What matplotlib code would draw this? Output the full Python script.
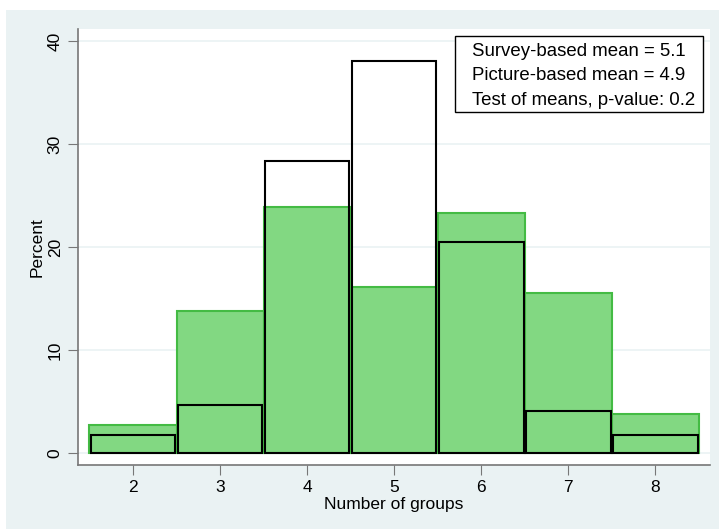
import numpy as np
import matplotlib.pyplot as plt
from matplotlib.patches import Rectangle

plt.rcParams['font.family'] = ['Liberation Sans', 'DejaVu Sans']

# Data: percent per number of groups
groups = [2, 3, 4, 5, 6, 7, 8]
survey_pct = [2.7, 13.8, 23.9, 16.1, 23.3, 15.5, 3.8]   # green filled
picture_pct = [1.7, 4.7, 28.4, 38.1, 20.5, 4.1, 1.7]    # black outline
box_lines = ["Survey-based mean = 5.1",
             "Picture-based mean = 4.9",
             "Test of means, p-value: 0.2"]

W, H = 719, 529
bg = "#EAF2F3"
fig = plt.figure(figsize=(W / 100, H / 100), dpi=100)
fig.patch.set_facecolor("white")
fig.patches.append(Rectangle((6 / W, 0), 1, 1 - 10 / H, transform=fig.transFigure,
                             facecolor=bg, edgecolor="none", zorder=-10))

ax = fig.add_axes([78 / W, 64 / H, 632 / W, 436 / H])
ax.set_facecolor("white")

ax.bar(groups, survey_pct, width=1.0, color="#82D882", edgecolor="#44BB44",
       linewidth=1.5, zorder=2)
ax.bar(groups, picture_pct, width=0.97, color="none", edgecolor="black",
       linewidth=1.5, zorder=3)

ax.set_xlim(1.368, 8.626)
ax.set_ylim(-1.165, 41.17)
ax.set_xticks(groups)
ax.set_yticks([0, 10, 20, 30, 40])
ax.tick_params(axis="y", labelrotation=90, length=7, color="#777777", labelsize=12.5, pad=4)
ax.tick_params(axis="x", length=7, color="#777777", labelsize=12.5)
for lab in ax.get_yticklabels():
    lab.set_va("center")
ax.yaxis.grid(True, color=bg, linewidth=1.2, zorder=0)
ax.set_axisbelow(True)

for s in ["top", "right"]:
    ax.spines[s].set_visible(False)
for s in ["left", "bottom"]:
    ax.spines[s].set_color("#777777")
    ax.spines[s].set_linewidth(1.2)

ax.set_xlabel("Number of groups", fontsize=12.5, labelpad=2)
ax.set_ylabel("Percent", fontsize=12.5, labelpad=2)

# text box (pixel layout from the reference)
fig.patches.append(Rectangle((455 / W, 1 - 112 / H), 248 / W, 76 / H,
                             transform=fig.transFigure, facecolor="white",
                             edgecolor="black", linewidth=1, zorder=5))
for i, line in enumerate(box_lines):
    fig.text(472 / W, 1 - (56 + 24.5 * i) / H, line, ha="left", va="baseline",
             fontsize=13.4, zorder=6)

fig.savefig("out.png", dpi=100)
